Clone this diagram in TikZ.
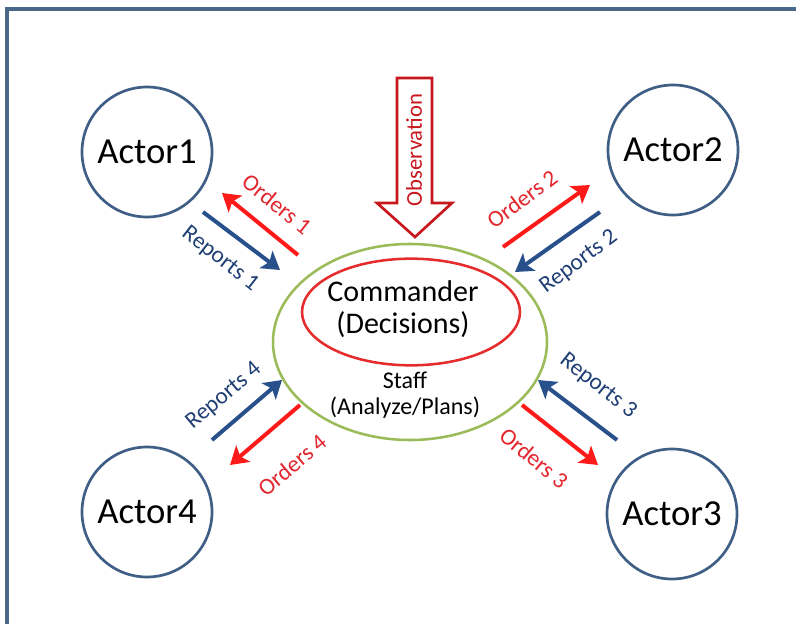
\documentclass[tikz,border=0pt]{standalone}
\usepackage{fontspec}
\setmainfont{Carlito}
\usetikzlibrary{arrows.meta,shapes.geometric}

\definecolor{framecol}{HTML}{4A6688}
\definecolor{actorcol}{HTML}{3F5E86}
\definecolor{ordercol}{HTML}{FF1A1A}
\definecolor{ordertext}{HTML}{E3262E}
\definecolor{reportcol}{HTML}{28508A}
\definecolor{reporttext}{HTML}{1F3F75}
\definecolor{staffcol}{HTML}{9BBB59}
\definecolor{cmdcol}{HTML}{E52B2B}
\definecolor{obscol}{HTML}{C8161D}

\begin{document}
\begin{tikzpicture}[x=0.75pt,y=-0.75pt,
  actor/.style={circle,draw=actorcol,line width=2pt,minimum size=97.5pt,inner sep=0pt,
    font=\fontsize{27.5}{31}\selectfont},
  flow/.style={line width=3pt,-{Stealth[length=13pt,width=16pt,inset=3pt]}},
  orderarrow/.style={flow,draw=ordercol},
  reportarrow/.style={flow,draw=reportcol},
  orderlabel/.style={text=ordertext,font=\fontsize{17.5}{19}\selectfont,inner sep=0pt},
  reportlabel/.style={text=reporttext,font=\fontsize{17.5}{19}\selectfont,inner sep=0pt}]
\useasboundingbox (0,0) rectangle (796,624);
\fill[white] (0,0) rectangle (796,624);

% frame (only its top and left sides fall inside the page)
\draw[framecol,line width=2.3pt] (7,624) -- (7,9) -- (796,9);

% actors
\node[actor] (a1) at (147,152) {Actor1};
\node[actor] (a2) at (673,150) {Actor2};
\node[actor] (a3) at (672,514) {Actor3};
\node[actor] (a4) at (147,512) {Actor4};

% staff and commander
\node[ellipse,draw=staffcol,line width=1.9pt,minimum width=205.5pt,minimum height=147pt] (staff) at (410,342) {};
\node[ellipse,draw=cmdcol,line width=1.9pt,minimum width=163.5pt,minimum height=80pt] (cmd) at (411,312) {};
\node[align=center,font=\fontsize{22.5}{24}\selectfont] (cmdtext) at (403,309) {Commander\\(Decisions)};
\node[align=center,font=\fontsize{18}{19.5}\selectfont] (stafftext) at (405,395) {Staff\\(Analyze/Plans)};

% observation block arrow
\draw[obscol,line width=2pt,fill=white,line join=miter]
  (397,78) -- (432,78) -- (432,203) -- (452,203) -- (415,237) -- (377,203) -- (397,203) -- cycle;
\node[rotate=90,text=obscol,font=\fontsize{17}{19}\selectfont,inner sep=0pt] (obs) at (414,150) {Observation};

% end points of the order and report arrows
\coordinate (o1s) at (298,255); \coordinate (o1e) at (222,193);
\coordinate (r1s) at (203,212); \coordinate (r1e) at (280,270);
\coordinate (o2s) at (503,247); \coordinate (o2e) at (590,185);
\coordinate (r2s) at (600,212); \coordinate (r2e) at (515,272);
\coordinate (o3s) at (522,405); \coordinate (o3e) at (598,465);
\coordinate (r3s) at (617,440); \coordinate (r3e) at (538,380);
\coordinate (o4s) at (300,405); \coordinate (o4e) at (230,465);
\coordinate (r4s) at (212,440); \coordinate (r4e) at (282,380);

\draw[orderarrow] (o1s) -- (o1e);
\draw[reportarrow] (r1s) -- (r1e);
\draw[orderarrow] (o2s) -- (o2e);
\draw[reportarrow] (r2s) -- (r2e);
\draw[orderarrow] (o3s) -- (o3e);
\draw[reportarrow] (r3s) -- (r3e);
\draw[orderarrow] (o4s) -- (o4e);
\draw[reportarrow] (r4s) -- (r4e);

% labels
\node[orderlabel,rotate=-39] (lo1) at (277,204) {Orders 1};
\node[reportlabel,rotate=-38] (lr1) at (220,259) {Reports 1};
\node[orderlabel,rotate=37] (lo2) at (522,199) {Orders 2};
\node[reportlabel,rotate=37] (lr2) at (579,262) {Reports 2};
\node[reportlabel,rotate=-38] (lr3) at (598,386) {Reports 3};
\node[orderlabel,rotate=-40] (lo3) at (534,458) {Orders 3};
\node[reportlabel,rotate=40] (lr4) at (224,396) {Reports 4};
\node[orderlabel,rotate=40] (lo4) at (292,465) {Orders 4};
\end{tikzpicture}
\end{document}
